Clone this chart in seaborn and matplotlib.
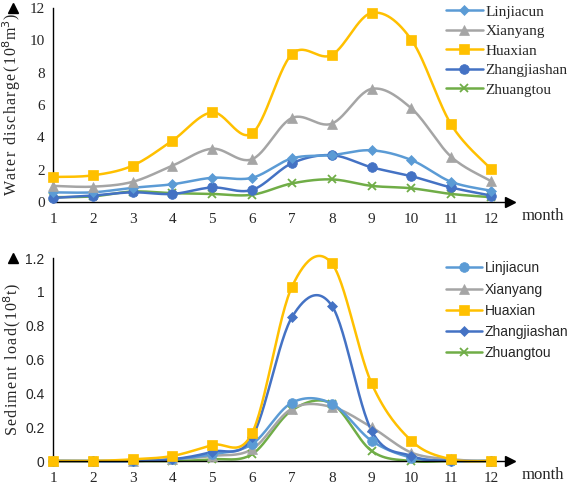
import numpy as np
import matplotlib
matplotlib.use("Agg")
import matplotlib.pyplot as plt
from matplotlib.lines import Line2D
import seaborn as sns

months = list(range(1, 13))
stations = ["Linjiacun", "Xianyang", "Huaxian", "Zhangjiashan", "Zhuangtou"]

# water discharge (10^8 m3)
water_linjiacun = [0.6, 0.6, 0.88, 1.1, 1.5, 1.5, 2.7, 2.9, 3.2, 2.6, 1.25, 0.7]
water_xianyang = [1.0, 0.95, 1.25, 2.25, 3.3, 2.65, 5.2, 4.85, 7.0, 5.8, 2.8, 1.3]
water_huaxian = [1.55, 1.65, 2.25, 3.8, 5.55, 4.25, 9.15, 9.1, 11.7, 10.05, 4.8, 2.05]
water_zhangjiashan = [0.25, 0.4, 0.6, 0.5, 0.9, 0.75, 2.4, 2.9, 2.15, 1.6, 0.9, 0.4]
water_zhuangtou = [0.3, 0.35, 0.65, 0.55, 0.5, 0.45, 1.15, 1.4, 1.0, 0.85, 0.5, 0.3]

# sediment load (10^8 t)
sed_linjiacun = [0, 0, 0.0, 0.01, 0.04, 0.1, 0.345, 0.34, 0.12, 0.02, 0.0, 0.0]
sed_xianyang = [0, 0, 0.0, 0.01, 0.03, 0.07, 0.31, 0.32, 0.2, 0.05, 0.01, 0.0]
sed_huaxian = [0, 0, 0.01, 0.03, 0.095, 0.165, 1.03, 1.17, 0.46, 0.12, 0.01, 0.0]
sed_zhangjiashan = [0, 0, 0.0, 0.01, 0.055, 0.14, 0.85, 0.92, 0.18, 0.03, 0.0, 0.0]
sed_zhuangtou = [0, 0, 0.0, 0.0, 0.01, 0.04, 0.3, 0.34, 0.06, 0.0, 0.0, 0.0]

colors = {"Linjiacun": "#5B9BD5", "Xianyang": "#A5A5A5", "Huaxian": "#FFC000",
          "Zhangjiashan": "#4472C4", "Zhuangtou": "#70AD47"}
top_markers = {"Linjiacun": "D", "Xianyang": "^", "Huaxian": "s",
               "Zhangjiashan": "o", "Zhuangtou": "x"}
bot_markers = {"Linjiacun": "o", "Xianyang": "^", "Huaxian": "s",
               "Zhangjiashan": "D", "Zhuangtou": "x"}
msizes = {"D": 5, "^": 7, "s": 7, "o": 7, "x": 6}


def smooth(x, y, n=30):
    # Excel-like bezier smoothing through the points
    x = np.asarray(x, float)
    y = np.asarray(y, float)
    xs, ys = [], []
    t = np.linspace(0, 1, n)
    for i in range(len(x) - 1):
        p0 = np.array([x[i], y[i]])
        p3 = np.array([x[i + 1], y[i + 1]])
        pm = np.array([x[max(i - 1, 0)], y[max(i - 1, 0)]])
        pp = np.array([x[min(i + 2, len(x) - 1)], y[min(i + 2, len(x) - 1)]])
        c1 = p0 + (p3 - pm) / 6
        c2 = p3 - (pp - p0) / 6
        pts = ((1 - t) ** 3)[:, None] * p0 + (3 * (1 - t) ** 2 * t)[:, None] * c1 \
            + (3 * (1 - t) * t ** 2)[:, None] * c2 + (t ** 3)[:, None] * p3
        xs.extend(pts[:, 0])
        ys.extend(pts[:, 1])
    return np.array(xs), np.array(ys)


def spaced(s):
    # wide letter spacing like the original figure
    return "\u200a".join(s)


sns.set_style("white")
serif = "Liberation Serif"
sans = "Liberation Sans"

fig = plt.figure(figsize=(5.68, 4.84), dpi=100)
ax1 = fig.add_axes([0.0933, 0.5826, 0.8047, 0.401])
ax2 = fig.add_axes([0.0933, 0.0475, 0.8047, 0.4195])


def draw(ax, data, markers, order):
    for name in order:
        vals = data[name]
        sx, sy = smooth(months, vals)
        sns.lineplot(x=sx, y=sy, ax=ax, color=colors[name], lw=1.8, sort=False,
                     estimator=None, legend=False, clip_on=False)
        m = markers[name]
        ax.plot(months, vals, ls="none", marker=m, ms=msizes[m], color=colors[name],
                mew=1.3 if m == "x" else 0.5, clip_on=False, zorder=3)


water = {"Linjiacun": water_linjiacun, "Xianyang": water_xianyang,
         "Huaxian": water_huaxian, "Zhangjiashan": water_zhangjiashan,
         "Zhuangtou": water_zhuangtou}
sed = {"Linjiacun": sed_linjiacun, "Xianyang": sed_xianyang,
       "Huaxian": sed_huaxian, "Zhangjiashan": sed_zhangjiashan,
       "Zhuangtou": sed_zhuangtou}

draw(ax1, water, top_markers, ["Zhuangtou", "Zhangjiashan", "Linjiacun", "Xianyang", "Huaxian"])
draw(ax2, sed, bot_markers, ["Zhuangtou", "Xianyang", "Linjiacun", "Zhangjiashan", "Huaxian"])

for ax, ymax in [(ax1, 12), (ax2, 1.2)]:
    ax.set_xlim(1, 12.48)
    ax.set_ylim(0, ymax * 1.001)
    ax.set_xticks(months)
    ax.set_xticklabels([str(m) for m in months], fontfamily=serif, fontsize=11)
    sns.despine(ax=ax)
    for s in ["left", "bottom"]:
        ax.spines[s].set_color("black")
        ax.spines[s].set_linewidth(1.0)
    ax.tick_params(axis="x", direction="inout", length=4, width=0.8, pad=6)
    ax.tick_params(axis="y", length=0, pad=6)
    ax.plot(1, 0, ">k", ms=7, transform=ax.get_yaxis_transform(), clip_on=False)
    ax.plot(0, 1, "^k", ms=7, transform=ax.get_xaxis_transform(), clip_on=False)

ax1.set_yticks([0, 2, 4, 6, 8, 10, 12])
ax1.set_yticklabels(["0", "2", "4", "6", "8", "10", "12"], fontfamily=serif, fontsize=11)
ax2.set_yticks([0, 0.2, 0.4, 0.6, 0.8, 1.0, 1.2])
ax2.set_yticklabels(["0", "0.2", "0.4", "0.6", "0.8", "1", "1.2"], fontfamily=sans, fontsize=10)

ax1.set_ylabel(spaced("Water discharge(10") + "$^{8}$" + spaced("m") + "$^{3}$)",
               fontfamily=serif, fontsize=11.5)
ax2.set_ylabel(spaced("Sediment load(10") + "$^{8}$" + spaced("t)"),
               fontfamily=serif, fontsize=11.5)
ax1.yaxis.set_label_coords(-0.066, 0.5)
ax2.yaxis.set_label_coords(-0.066, 0.5)

fig.text(0.918, 0.545, "month", fontfamily=serif, fontsize=12, ha="left")
fig.text(0.918, 0.01, "month", fontfamily=serif, fontsize=12, ha="left")


def handles(markers):
    return [Line2D([], [], color=colors[n], lw=1.8, marker=markers[n],
                   ms=msizes[markers[n]], mew=1.3 if markers[n] == "x" else 0.5)
            for n in stations]


leg1 = ax1.legend(handles(top_markers), stations, loc="upper left",
                  bbox_to_anchor=(0.785, 0.99), bbox_transform=fig.transFigure,
                  frameon=False, prop={"family": serif, "size": 11},
                  handlelength=2.4, handletextpad=0.2, labelspacing=0.38,
                  borderaxespad=0, borderpad=0)
leg2 = ax2.legend(handles(bot_markers), stations, loc="upper left",
                  bbox_to_anchor=(0.785, 0.46), bbox_transform=fig.transFigure,
                  frameon=False, prop={"family": sans, "size": 10},
                  handlelength=2.6, handletextpad=0.2, labelspacing=0.52,
                  borderaxespad=0, borderpad=0)

fig.savefig("out.png", dpi=100)
